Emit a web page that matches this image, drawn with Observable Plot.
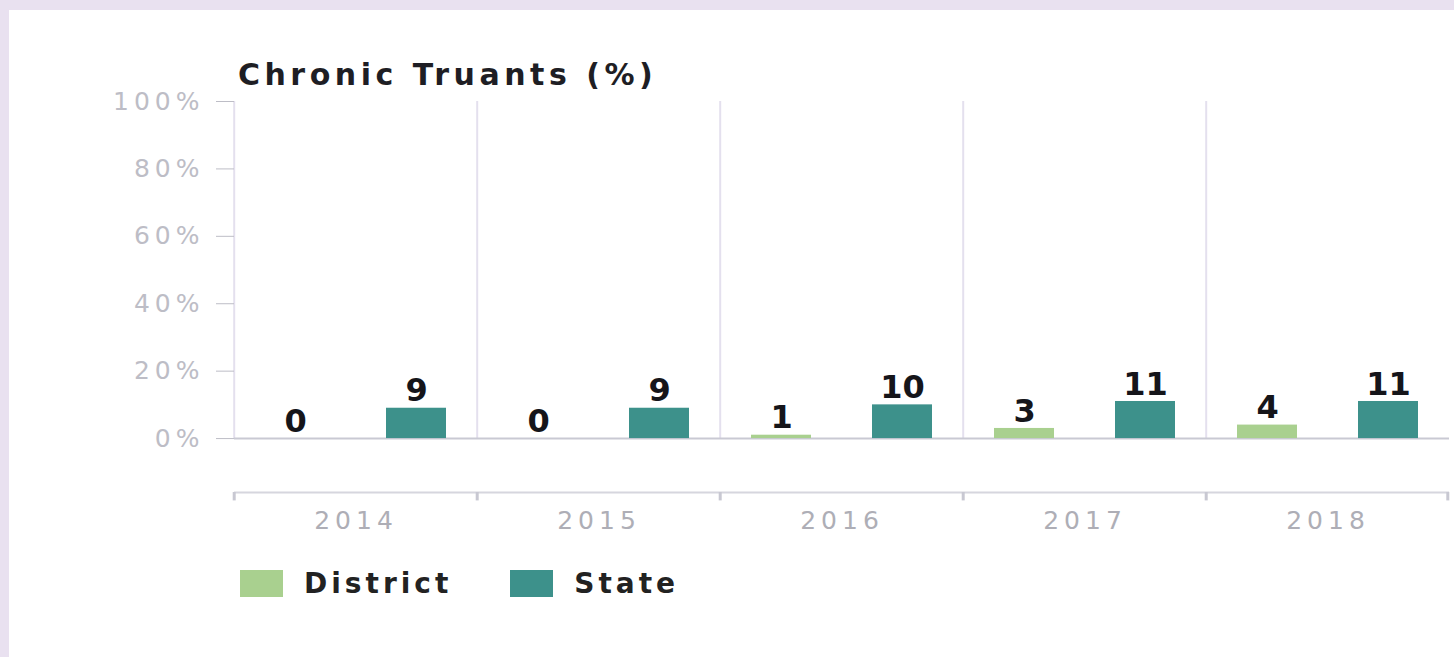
<!DOCTYPE html>
<html><head><meta charset="utf-8">
<script src="https://cdn.jsdelivr.net/npm/d3@7"></script>
<script src="https://cdn.jsdelivr.net/npm/@observablehq/plot@0.6"></script>
<style>
html,body{margin:0;padding:0;width:1454px;height:657px;overflow:hidden;background:#e9e1f0;}
#page{position:absolute;left:9px;top:10px;right:0;bottom:0;background:#fff;}
#chart{position:absolute;left:0;top:0;}
#title{position:absolute;left:238px;top:57px;font:bold 30px "DejaVu Sans";letter-spacing:4.5px;color:#1e1e24;white-space:nowrap;}
#legend{position:absolute;left:240px;top:567px;display:flex;align-items:center;font:bold 28px "DejaVu Sans";letter-spacing:4px;color:#222;}
.sw{display:inline-block;width:43px;height:27px;margin-right:21px;}
.item{display:flex;align-items:center;margin-right:58px;}
</style></head><body>
<div id="page"></div>
<div id="title">Chronic Truants (%)</div>
<div id="chart"></div>
<div id="legend"></div>
<script>
const years = ["2014","2015","2016","2017","2018"];
const seriesNames = ["District","State"];
const districtValues = [0,0,1,3,4];
const stateValues = [9,9,10,11,11];
const yTicks = [0,20,40,60,80,100];
const seriesColors = ["#a9d08f","#3d918b"];

const data = [];
years.forEach((yr,i)=>{
  data.push({year:yr, series:seriesNames[0], value:districtValues[i]});
  data.push({year:yr, series:seriesNames[1], value:stateValues[i]});
});

const W=1454, ML=232, MR=4;
const fw=(W-ML-MR)/years.length;

const chart = Plot.plot({
  width: W, height: 552,
  marginLeft: ML, marginRight: MR, marginTop: 101, marginBottom: 60,
  style: {fontFamily:"DejaVu Sans", fontSize:"25px", background:"transparent", overflow:"visible"},
  fx: {domain: years, padding: 0, axis: null, label: null},
  x: {domain: seriesNames, paddingInner: 0.506, paddingOuter: 0.253, axis: null},
  y: {domain: [-16, 100], axis: null, label: null},
  color: {domain: seriesNames, range: seriesColors},
  marks: [
    Plot.ruleX(years, {fx: d=>d, x: null, y1: 0, y2: 100, dx: -fw/2, stroke:"#e4e0ee", strokeWidth: 2}),
    Plot.ruleY([0], {stroke:"#c9c9d3", strokeWidth: 2}),
    Plot.ruleY([-16], {stroke:"#d6d6de", strokeWidth: 2}),
    Plot.ruleX(years, {fx: d=>d, x: null, y1: -16, y2: -18.5, dx: -fw/2, stroke:"#c8c8d2", strokeWidth: 3}),
    Plot.ruleX(years.slice(-1), {fx: d=>d, x: null, y1: -16, y2: -18.5, dx: fw/2 - 2, stroke:"#c8c8d2", strokeWidth: 3}),
    Plot.barY(data, {fx:"year", x:"series", y:"value", fill:"series"}),
    Plot.text(data, {fx:"year", x:"series", y:"value", text: d=>String(d.value), dy:-17, fontSize:32, fontWeight:"bold", fill:"#15151a"}),
    Plot.axisY(yTicks, {tickFormat: d=>d+"%", tickSize:18, tickPadding:12, color:"#bdbdc6", label: null}),
    Plot.axisFx({anchor:"bottom", tickSize:0, tickPadding:19, color:"#aeaeb6", label: null})
  ]
});
document.getElementById("chart").appendChild(chart);
d3.select(chart).selectAll('g[aria-label="y-axis tick label"] text').style("letter-spacing","5px");
d3.select(chart).selectAll('g[aria-label="fx-axis tick label"] text').style("letter-spacing","5px");

const legend = document.getElementById("legend");
seriesNames.forEach((s,i)=>{
  const item = document.createElement("div"); item.className="item";
  const sw = document.createElement("span"); sw.className="sw"; sw.style.background=seriesColors[i];
  const t = document.createElement("span"); t.textContent=s;
  item.appendChild(sw); item.appendChild(t); legend.appendChild(item);
});
</script>
</body></html>
